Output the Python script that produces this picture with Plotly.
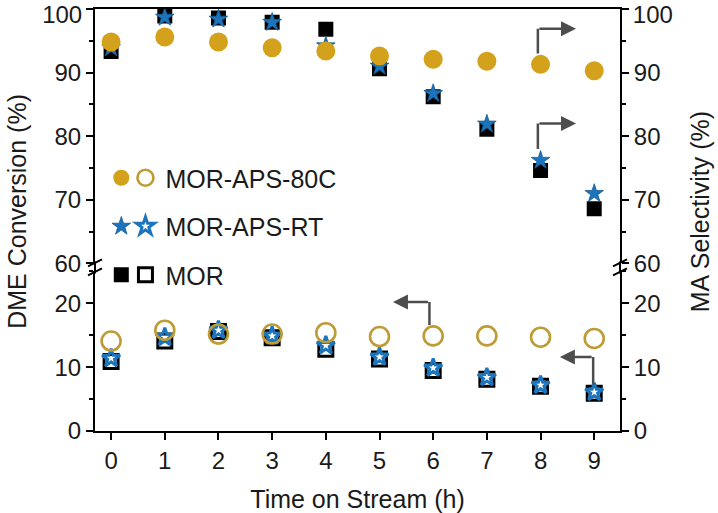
import plotly.graph_objects as go

# ---------------- data ----------------
hours = [0, 1, 2, 3, 4, 5, 6, 7, 8, 9]

# MA selectivity (%) -> filled markers, upper panel (right axis)
sel_80c = [94.8, 95.6, 94.8, 93.9, 93.4, 92.6, 92.1, 91.8, 91.3, 90.3]
sel_rt = [93.9, 98.7, 98.4, 97.9, 94.2, 91.0, 86.7, 81.9, 76.2, 71.0]
sel_mor = [93.3, 98.9, 98.6, 97.9, 96.8, 90.6, 86.2, 81.1, 74.6, 68.6]

# DME conversion (%) -> open markers, lower panel (left axis)
conv_80c = [14.1, 15.8, 15.2, 15.2, 15.4, 14.8, 14.9, 14.9, 14.7, 14.5]
conv_rt = [11.4, 14.7, 15.8, 14.9, 13.4, 11.6, 9.9, 8.4, 7.2, 6.1]
conv_mor = [10.9, 14.1, 15.6, 14.6, 12.8, 11.3, 9.5, 8.1, 7.0, 5.9]

samples = ["MOR-APS-80C", "MOR-APS-RT", "MOR"]
x_ticks = list(range(10))
y_low_ticks = [0, 10, 20]
y_high_ticks = [60, 70, 80, 90, 100]
y_high_labels = ["60", "70", "80", "90", ""]   # "100" drawn by a nudged axis
y_top_tick = [100]
y_top_label = ["100"]

# elbow arrows: (x of vertical part, y start, y of turn, x of arrow head, panel)
arrows = [
    (7.95, 93.0, 96.9, 8.66, "top"),
    (7.95, 78.0, 82.0, 8.66, "top"),
    (5.93, 16.6, 20.2, 5.25, "bottom"),
    (8.98, 7.3, 11.6, 8.36, "bottom"),
]

GOLD = "#D3A11B"
GOLD_OPEN = "#BE9B35"
BLUE = "#1C75BC"
BLACK = "#000000"
GREY = "#4d4d4d"
TXT = "#1a1a1a"
FONT = "Liberation Sans, Arial, sans-serif"
FS_TICK = 24
FS_TEXT = 25

fig = go.Figure()

def sel_hover(name):
    return name + "<br>Time: %{x} h<br>MA selectivity: %{y}%<extra></extra>"

def conv_hover(name):
    return name + "<br>Time: %{x} h<br>DME conversion: %{y}%<extra></extra>"

# ---- filled (selectivity) traces, upper panel, right axis ----
fig.add_trace(go.Scatter(x=hours, y=sel_mor, mode="markers", name="",
                         legendgroup="mor", legendrank=3, legend="legend",
                         hovertemplate=sel_hover(samples[2]),
                         marker=dict(symbol="square", size=15, color=BLACK),
                         xaxis="x2", yaxis="y4"))
fig.add_trace(go.Scatter(x=hours, y=sel_rt, mode="markers", name="",
                         legendgroup="rt", legendrank=2, legend="legend",
                         hovertemplate=sel_hover(samples[1]),
                         marker=dict(symbol="star", size=14, color=BLUE,
                                     line=dict(width=0.8, color="#155a90")),
                         xaxis="x2", yaxis="y4"))
fig.add_trace(go.Scatter(x=hours, y=sel_80c, mode="markers", name="",
                         legendgroup="c80", legendrank=1, legend="legend",
                         hovertemplate=sel_hover(samples[0]),
                         marker=dict(symbol="circle", size=19, color=GOLD),
                         xaxis="x2", yaxis="y4"))

# ---- open (conversion) traces, lower panel, left axis ----
fig.add_trace(go.Scatter(x=hours, y=conv_mor, mode="markers", name=samples[2],
                         legendgroup="mor", legendrank=3, legend="legend2",
                         hovertemplate=conv_hover(samples[2]),
                         marker=dict(symbol="square-open", size=14, color=BLACK,
                                     line=dict(width=3)),
                         xaxis="x", yaxis="y"))
fig.add_trace(go.Scatter(x=hours, y=conv_rt, mode="markers", name=samples[1],
                         legendgroup="rt", legendrank=2, legend="legend2",
                         hovertemplate=conv_hover(samples[1]),
                         marker=dict(symbol="star-open", size=13.5, color=BLUE,
                                     line=dict(width=3)),
                         xaxis="x", yaxis="y"))
fig.add_trace(go.Scatter(x=hours, y=conv_80c, mode="markers", name=samples[0],
                         legendgroup="c80", legendrank=1, legend="legend2",
                         hovertemplate=conv_hover(samples[0]),
                         marker=dict(symbol="circle-open", size=19, color=GOLD_OPEN,
                                     line=dict(width=2.6)),
                         xaxis="x", yaxis="y"))

# empty traces so that the mirrored / helper axes are drawn
for ya, xa in (("y2", "x2"), ("y3", "x"), ("y5", "x2"), ("y6", "x2")):
    fig.add_trace(go.Scatter(x=[], y=[], xaxis=xa, yaxis=ya, showlegend=False,
                             hoverinfo="skip"))

# ---- arrows ----
shapes = []
annotations = []
for xv, y0, yt, xh, panel in arrows:
    xr, yr = ("x2", "y2") if panel == "top" else ("x", "y")
    shapes.append(dict(type="line", xref=xr, yref=yr, x0=xv, x1=xv, y0=y0, y1=yt,
                       line=dict(color=GREY, width=2.5)))
    annotations.append(dict(x=xh, y=yt, ax=xv, ay=yt,
                            xref=xr, yref=yr, axref=xr, ayref=yr, text="",
                            showarrow=True, arrowhead=2, arrowsize=1.2,
                            arrowwidth=2.5, arrowcolor=GREY, startstandoff=0,
                            standoff=0))

# ---- axis break marks (pixel sized, anchored at the break) ----
D_LOW = [0.0, 0.378]
D_HIGH = [0.397, 1.0]
brk = (D_LOW[1] + D_HIGH[0]) / 2
for xa in (0, 1):
    shapes.append(dict(type="line", xref="paper", yref="paper", xsizemode="pixel",
                       ysizemode="pixel", xanchor=xa, yanchor=brk,
                       x0=0, x1=0, y0=-6, y1=6, line=dict(color=BLACK, width=2)))
    for dy in (-4.5, 4.5):
        shapes.append(dict(type="line", xref="paper", yref="paper", xsizemode="pixel",
                           ysizemode="pixel", xanchor=xa, yanchor=brk,
                           x0=-7, x1=7, y0=dy - 3.5, y1=dy + 3.5,
                           line=dict(color=BLACK, width=2)))

# ---- axis titles ----
annotations.append(dict(text="DME Conversion (%)", xref="paper", yref="paper",
                        x=-0.15, y=0.52, textangle=-90, showarrow=False,
                        font=dict(size=FS_TEXT, color=TXT), xanchor="center",
                        yanchor="middle"))
annotations.append(dict(text="MA Selectivity (%)", xref="paper", yref="paper",
                        x=1.152, y=0.52, textangle=-90, showarrow=False,
                        font=dict(size=FS_TEXT, color=TXT), xanchor="center",
                        yanchor="middle"))

axis_common = dict(showline=True, linecolor=BLACK, linewidth=2, showgrid=False,
                   zeroline=False, ticks="outside", ticklen=7, tickwidth=2,
                   tickcolor=BLACK, tickfont=dict(size=FS_TICK, color=TXT),
                   ticklabeloverflow="allow", automargin=False)
minor = dict(ticks="outside", ticklen=4, tickwidth=2, tickcolor=BLACK,
             dtick=5, tick0=0, showgrid=False)
top_label_axis = dict(showline=False, showgrid=False, zeroline=False, ticks="outside",
                      ticklen=7, tickcolor="rgba(0,0,0,0)", tickwidth=2,
                      tickfont=dict(size=FS_TICK, color=TXT), automargin=False,
                      ticklabeloverflow="allow", ticklabelshift=6,
                      range=[60, 100], tickvals=y_top_tick, ticktext=y_top_label)

fig.update_layout(
    width=718, height=513,
    margin=dict(l=95, r=98, t=9, b=82),
    paper_bgcolor="white", plot_bgcolor="white",
    font=dict(family=FONT, size=FS_TEXT, color=TXT),
    showlegend=True,
    xaxis=dict(**axis_common, anchor="y", domain=[0, 1], range=[-0.3, 9.48],
               tickvals=x_ticks,
               title=dict(text="Time on Stream (h)", font=dict(size=FS_TEXT),
                          standoff=18)),
    xaxis2=dict(anchor="y2", matches="x", side="top", showline=True, linecolor=BLACK,
                linewidth=2, ticks="", showticklabels=False, showgrid=False,
                zeroline=False, automargin=False),
    yaxis=dict(**axis_common, anchor="x", domain=D_LOW, range=[0, 25],
               tickvals=y_low_ticks, minor=minor),
    yaxis2=dict(**axis_common, anchor="x2", domain=D_HIGH, range=[60, 100],
                tickvals=y_high_ticks, ticktext=y_high_labels, minor=minor),
    yaxis3=dict(**axis_common, anchor="x", overlaying="y", side="right",
                range=[0, 25], tickvals=y_low_ticks, minor=minor),
    yaxis4=dict(**axis_common, anchor="x2", overlaying="y2", side="right",
                range=[60, 100], tickvals=y_high_ticks, ticktext=y_high_labels,
                minor=minor),
    yaxis5=dict(**top_label_axis, anchor="x2", overlaying="y2", side="left"),
    yaxis6=dict(**top_label_axis, anchor="x2", overlaying="y2", side="right"),
    legend=dict(x=0.012, y=0.654, xanchor="left", yanchor="top",
                bgcolor="rgba(0,0,0,0)", font=dict(size=FS_TEXT, color=TXT),
                tracegroupgap=13, itemsizing="trace"),
    legend2=dict(x=0.058, y=0.654, xanchor="left", yanchor="top",
                 bgcolor="rgba(0,0,0,0)", font=dict(size=FS_TEXT, color=TXT),
                 tracegroupgap=13, itemsizing="trace"),
    shapes=shapes,
    annotations=annotations,
)

fig.write_html("out.html")
